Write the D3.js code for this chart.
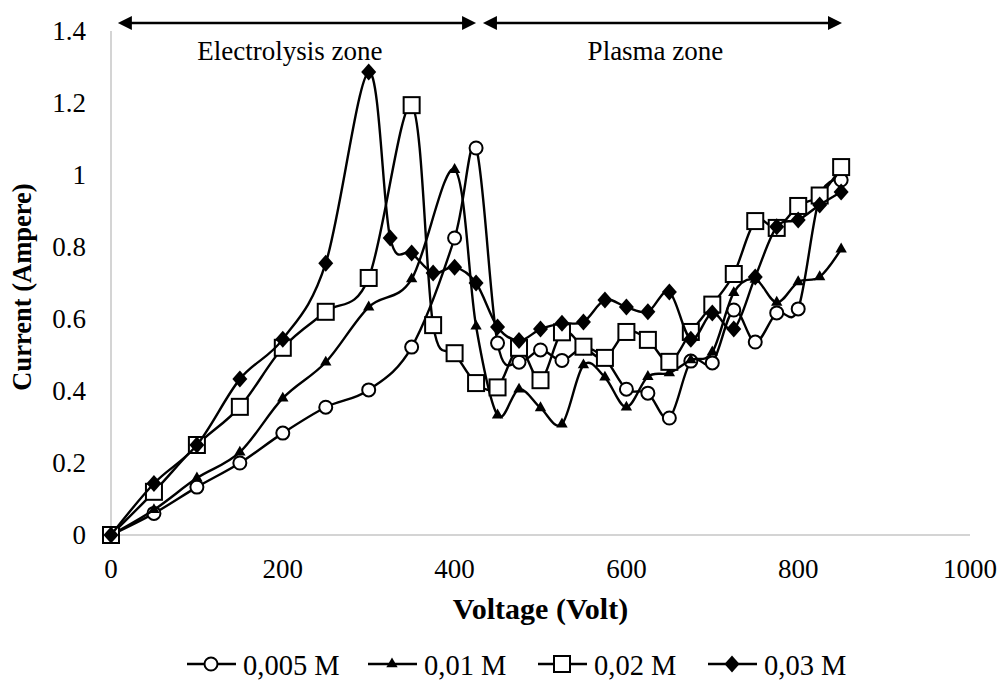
<!DOCTYPE html>
<html>
<head>
<meta charset="utf-8">
<script src="https://cdn.jsdelivr.net/npm/d3@7"></script>
<style>
body { margin: 0; background: #fff; }
text { font-family: "Liberation Serif", "Times New Roman", serif; fill: #000; }
</style>
</head>
<body>
<div id="main"></div>
<script>
// values
var volt_005 = [0,50,100,150,200,250,300,350,400,425,450,475,500,525,550,575,600,625,650,675,700,725,750,775,800,825,850];
var amp_005  = [0,0.06,0.133,0.2,0.283,0.355,0.403,0.522,0.825,1.075,0.533,0.48,0.514,0.485,0.52,0.49,0.405,0.394,0.325,0.483,0.478,0.625,0.536,0.617,0.628,0.94,0.986];

var volt_01 = [0,50,100,150,200,250,300,350,400,425,450,475,500,525,550,575,600,625,650,675,700,725,750,775,800,825,850];
var amp_01  = [0,0.07,0.158,0.23,0.38,0.48,0.633,0.711,1.015,0.58,0.333,0.405,0.353,0.308,0.472,0.438,0.355,0.44,0.45,0.486,0.508,0.673,0.71,0.646,0.703,0.717,0.794];

var volt_02 = [0,50,100,150,200,250,300,350,375,400,425,450,475,500,525,550,575,600,625,650,675,700,725,750,775,800,825,850];
var amp_02  = [0,0.12,0.25,0.356,0.52,0.62,0.714,1.194,0.583,0.505,0.422,0.41,0.52,0.43,0.563,0.523,0.492,0.564,0.542,0.481,0.564,0.64,0.725,0.872,0.853,0.914,0.943,1.022];

var volt_03 = [0,50,100,150,200,250,300,325,350,375,400,425,450,475,500,525,550,575,600,625,650,675,700,725,750,775,800,825,850];
var amp_03  = [0,0.143,0.25,0.433,0.544,0.755,1.286,0.825,0.783,0.728,0.744,0.70,0.578,0.54,0.572,0.588,0.592,0.653,0.633,0.62,0.675,0.544,0.617,0.572,0.717,0.856,0.875,0.917,0.953];

var seriesNames = ['0,005 M', '0,01 M', '0,02 M', '0,03 M'];
var seriesShapes = ['circle', 'triangle', 'square', 'diamond'];
var xTicks = [0, 200, 400, 600, 800, 1000];
var yTicks = [0, 0.2, 0.4, 0.6, 0.8, 1, 1.2, 1.4];
var zoneNames = ['Electrolysis zone', 'Plasma zone'];
var zoneStart = [8, 433];
var zoneEnd = [425, 851];

var svgWidth = 1002, svgHeight = 695;

var svg = d3.select('#main').append('svg')
			.attr('width', svgWidth)
			.attr('height', svgHeight);

var x = d3.scaleLinear().domain([0, 1000]).range([111, 970]);
var y = d3.scaleLinear().domain([0, 1.4]).range([535, 31]);

// axis lines, light gray, no gridlines
svg.append('line')
	.attr('x1', x(0)).attr('x2', x(1000))
	.attr('y1', y(0)).attr('y2', y(0))
	.style('stroke', '#c6c6c6').style('stroke-width', 1.5);
svg.append('line')
	.attr('x1', x(0)).attr('x2', x(0))
	.attr('y1', y(0)).attr('y2', y(1.4))
	.style('stroke', '#c6c6c6').style('stroke-width', 1.5);

svg.selectAll('.xtick')
	.data(xTicks)
	.enter()
	.append('text')
	.attr('class', 'xtick')
	.attr('x', function(d){ return x(d); })
	.attr('y', 578)
	.attr('text-anchor', 'middle')
	.style('font-size', '27px')
	.text(function(d){ return d; });

svg.selectAll('.ytick')
	.data(yTicks)
	.enter()
	.append('text')
	.attr('class', 'ytick')
	.attr('x', 86)
	.attr('y', function(d){ return y(d) + 9; })
	.attr('text-anchor', 'end')
	.style('font-size', '27px')
	.text(function(d){ return d; });

svg.append('text')
	.attr('x', x(500))
	.attr('y', 619)
	.attr('text-anchor', 'middle')
	.style('font-size', '30px')
	.style('font-weight', 'bold')
	.text('Voltage (Volt)');

svg.append('text')
	.attr('transform', 'translate(31,' + (y(0.7) + 4) + ') rotate(-90)')
	.attr('text-anchor', 'middle')
	.style('font-size', '26.5px')
	.style('font-weight', 'bold')
	.text('Current (Ampere)');

// zone arrows on top
function arrowHead(px, py, dir){
	// dir = 1 points right, -1 points left
	return 'M' + px + ',' + py + 'L' + (px - dir * 14) + ',' + (py - 7) +
		'L' + (px - dir * 14) + ',' + (py + 7) + 'Z';
}
zoneNames.forEach(function(name, i){
	var x1 = x(zoneStart[i]), x2 = x(zoneEnd[i]);
	svg.append('line')
		.attr('x1', x1 + 6).attr('x2', x2 - 6)
		.attr('y1', 23).attr('y2', 23)
		.style('stroke', '#000').style('stroke-width', 2.5);
	svg.append('path').attr('d', arrowHead(x1, 23, -1)).style('fill', '#000');
	svg.append('path').attr('d', arrowHead(x2, 23, 1)).style('fill', '#000');
	svg.append('text')
		.attr('x', (x1 + x2) / 2 - 7)
		.attr('y', 60)
		.attr('text-anchor', 'middle')
		.style('font-size', '27px')
		.text(name);
});

// marker drawing
function drawMarker(g, shape, cx, cy){
	if(shape == 'circle'){
		g.append('circle').attr('cx', cx).attr('cy', cy).attr('r', 6.5)
			.style('fill', '#fff').style('stroke', '#000').style('stroke-width', 2);
	}else if(shape == 'square'){
		g.append('rect').attr('x', cx - 8).attr('y', cy - 8)
			.attr('width', 16).attr('height', 16)
			.style('fill', '#fff').style('stroke', '#000').style('stroke-width', 2);
	}else if(shape == 'triangle'){
		g.append('path')
			.attr('d', d3.symbol().type(d3.symbolTriangle).size(56)())
			.attr('transform', 'translate(' + cx + ',' + cy + ')')
			.style('fill', '#000');
	}else{
		g.append('path')
			.attr('d', 'M0,-8.5L7.5,0L0,8.5L-7.5,0Z')
			.attr('transform', 'translate(' + cx + ',' + cy + ')')
			.style('fill', '#000');
	}
}

var allVolts = [volt_005, volt_01, volt_02, volt_03];
var allAmps = [amp_005, amp_01, amp_02, amp_03];

var line = d3.line()
	.x(function(d){ return x(d[0]); })
	.y(function(d){ return y(d[1]); })
	.curve(d3.curveCatmullRom.alpha(0));

allVolts.forEach(function(volts, i){
	var pts = volts.map(function(v, j){ return [v, allAmps[i][j]]; });
	var g = svg.append('g').attr('class', 'series');
	g.append('path')
		.attr('d', line(pts))
		.style('fill', 'none')
		.style('stroke', '#000')
		.style('stroke-width', 2.4);
	pts.forEach(function(p){
		drawMarker(g, seriesShapes[i], x(p[0]), y(p[1]));
	});
});

// legend
var legendX = [187, 368, 538, 708];
var legend = svg.append('g').attr('class', 'legend');
seriesNames.forEach(function(name, i){
	var lx = legendX[i];
	legend.append('line')
		.attr('x1', lx).attr('x2', lx + 49)
		.attr('y1', 664).attr('y2', 664)
		.style('stroke', '#000').style('stroke-width', 2.4);
	drawMarker(legend, seriesShapes[i], lx + 24, 664);
	legend.append('text')
		.attr('x', lx + 56)
		.attr('y', 675)
		.style('font-size', '28.5px')
		.text(name);
});
</script>
</body>
</html>
